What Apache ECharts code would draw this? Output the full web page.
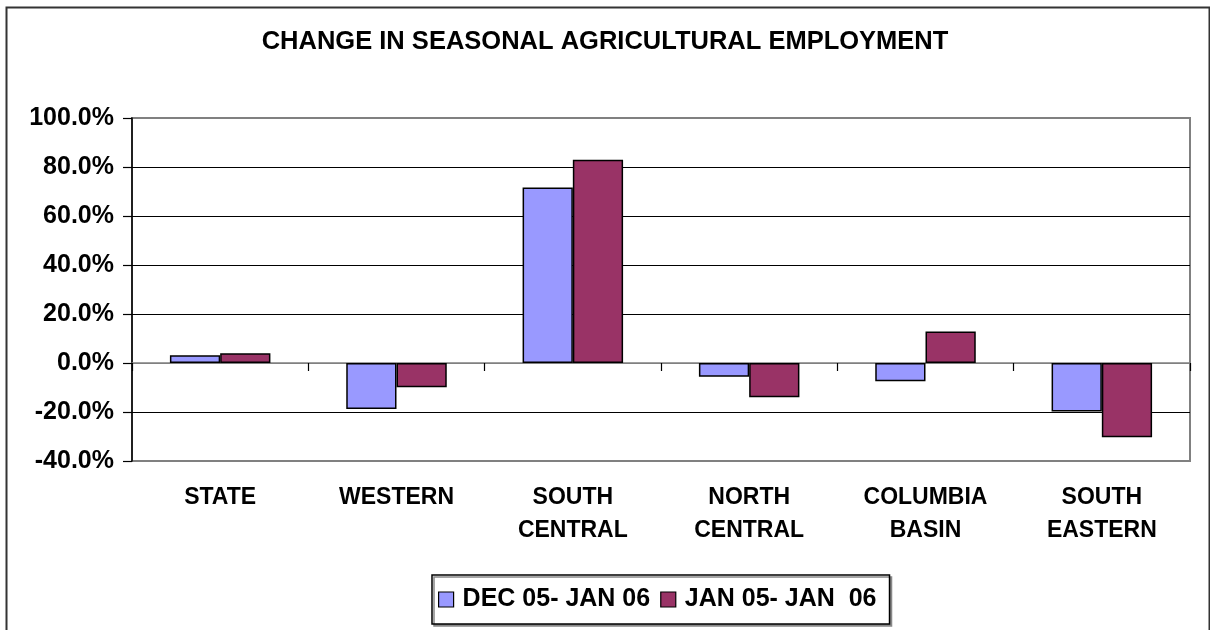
<!DOCTYPE html>
<html>
<head>
<meta charset="utf-8">
<script src="https://cdn.jsdelivr.net/npm/echarts@6/dist/echarts.min.js"></script>
<style>
html,body{margin:0;padding:0;background:#fff;}
#chart{width:1210px;height:630px;}
</style>
</head>
<body>
<div id="chart"></div>
<script>
const categories = ['STATE', 'WESTERN', 'SOUTH CENTRAL', 'NORTH CENTRAL', 'COLUMBIA BASIN', 'SOUTH EASTERN'];
const seriesNames = ['DEC 05- JAN 06', 'JAN 05- JAN  06'];
const decToJan = [3.2, -18.8, 71.6, -5.6, -7.4, -19.8];
const janToJan = [4.0, -9.9, 83.0, -14.0, 12.9, -30.3];
const yTicks = { min: -40, max: 100, interval: 20 };

const FONT = '"Liberation Sans", Arial, sans-serif';
const chart = echarts.init(document.getElementById('chart'), null, { renderer: 'canvas' });

chart.setOption({
  backgroundColor: '#ffffff',
  animation: false,
  graphic: [{
    type: 'rect',
    left: 4, top: 5,
    shape: { width: 1203, height: 700 },
    style: { fill: 'none', stroke: '#333', lineWidth: 2 },
    silent: true
  }],
  title: {
    text: 'CHANGE IN SEASONAL AGRICULTURAL EMPLOYMENT',
    left: 'center',
    top: 24,
    textStyle: { fontFamily: FONT, fontWeight: 'bold', fontSize: 25.5, color: '#000' }
  },
  grid: {
    left: 132, right: 20, top: 118, bottom: 169,
    show: true, borderColor: '#808080', borderWidth: 2, backgroundColor: '#fff'
  },
  legend: {
    data: seriesNames,
    left: 432, top: 575,
    padding: [12, 13, 12, 6],
    itemGap: 10,
    itemWidth: 15, itemHeight: 15,
    icon: 'rect',
    borderColor: '#000', borderWidth: 1.5,
    backgroundColor: '#fff',
    shadowColor: '#888', shadowOffsetX: 2, shadowOffsetY: 2, shadowBlur: 0,
    itemStyle: { borderColor: '#000', borderWidth: 1.2 },
    textStyle: { fontFamily: FONT, fontWeight: 'bold', fontSize: 25, color: '#000', padding: [0, 0, 0, 4] }
  },
  xAxis: [{
    type: 'category',
    data: categories,
    position: 'bottom',
    axisLine: { onZero: true, lineStyle: { color: '#808080', width: 1.5 } },
    axisTick: { show: true, length: 8, lineStyle: { color: '#000', width: 1.2 } },
    axisLabel: { show: false },
    splitLine: { show: false }
  }, {
    type: 'category',
    data: categories,
    position: 'bottom',
    offset: 0,
    axisLine: { show: false, onZero: false },
    axisTick: { show: false },
    splitLine: { show: false },
    axisLabel: {
      margin: 20,
      interval: 0,
      fontFamily: FONT, fontWeight: 'bold', fontSize: 23, color: '#000',
      lineHeight: 33,
      formatter: v => v.replace(' ', '\n')
    }
  }],
  yAxis: {
    type: 'value',
    min: yTicks.min, max: yTicks.max, interval: yTicks.interval,
    axisLine: { show: true, lineStyle: { color: '#000', width: 1.5 } },
    axisTick: { show: true, length: 9, lineStyle: { color: '#000', width: 1.2 } },
    axisLabel: {
      margin: 18,
      fontFamily: FONT, fontWeight: 'bold', fontSize: 25, color: '#000',
      formatter: v => v.toFixed(1) + '%'
    },
    splitLine: {
      show: true,
      lineStyle: { color: ['#808080', '#000', '#808080', '#000', '#000', '#000', '#000', '#808080'], width: 1.2 }
    }
  },
  series: [{
    name: seriesNames[0],
    type: 'bar',
    xAxisIndex: 0,
    data: decToJan,
    barGap: '0%',
    barCategoryGap: '43%',
    itemStyle: { color: '#9999FF', borderColor: '#000', borderWidth: 1.5 }
  }, {
    name: seriesNames[1],
    type: 'bar',
    xAxisIndex: 0,
    data: janToJan,
    barGap: '0%',
    barCategoryGap: '43%',
    itemStyle: { color: '#993366', borderColor: '#000', borderWidth: 1.5 }
  }]
});
</script>
</body>
</html>
